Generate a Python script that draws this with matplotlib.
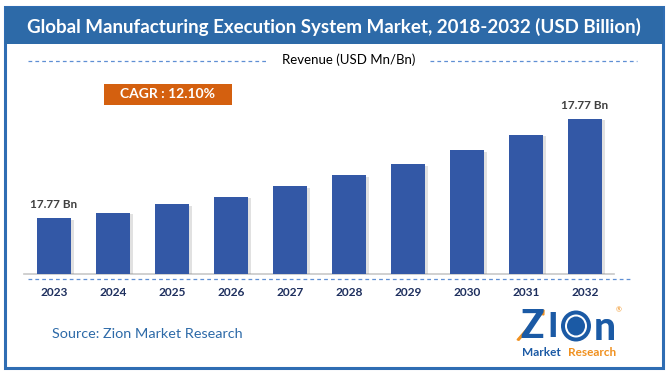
import matplotlib
matplotlib.use("Agg")
import matplotlib.pyplot as plt
import matplotlib.patheffects as pe
from matplotlib.patches import Rectangle, FancyArrow, Ellipse
from matplotlib.lines import Line2D

years = ["2023", "2024", "2025", "2026", "2027", "2028", "2029", "2030", "2031", "2032"]
values = [17.77, 19.56, 22.24, 24.67, 27.98, 31.49, 35.00, 39.47, 44.35, 49.46]
first_label = "17.77 Bn"
last_label = "17.77 Bn"
title = "Global Manufacturing Execution System Market, 2018-2032 (USD Billion)"
subtitle = "Revenue (USD Mn/Bn)"
cagr = "CAGR : 12.10%"
source = "Source: Zion Market Research"

W, H = 670, 376
FONT = ["Lato", "DejaVu Sans"]
plt.rcParams['font.family'] = FONT

fig = plt.figure(figsize=(W / 100, H / 100), dpi=100)
fig.patch.set_facecolor("white")

def fx(x):
    return x / W

def fy(y):
    return 1 - y / H

BLUE = "#2d6aa8"
BAR = "#3358a6"
DASH = "#5f8fd4"
LOGO_BLUE = "#1b5aa5"
LOGO_ORANGE = "#f0901e"

# outer border
fig.add_artist(Rectangle((fx(4.5), fy(368)), fx(663 - 4.5), (368 - 7) / H,
                         transform=fig.transFigure, fill=False, edgecolor="#2f6db3", lw=2.2))
# header band
fig.add_artist(Rectangle((fx(4.5), fy(44)), fx(663 - 4.5), (44 - 7) / H,
                         transform=fig.transFigure, facecolor=BLUE, edgecolor="none"))
fig.text(fx(334), fy(26.5), title, color="white", fontsize=13.5, fontweight="bold",
         ha="center", va="center")

# subtitle with dashed lines
fig.add_artist(Line2D([fx(28), fx(268)], [fy(61), fy(61)], transform=fig.transFigure,
                      color=DASH, lw=0.9, ls=(0, (3, 2.5))))
fig.add_artist(Line2D([fx(430), fx(637)], [fy(61), fy(61)], transform=fig.transFigure,
                      color=DASH, lw=0.9, ls=(0, (3, 2.5))))
fig.text(fx(349), fy(60), subtitle, color="black", fontsize=9.5, ha="center", va="center")

# CAGR box
fig.add_artist(Rectangle((fx(104), fy(104.5)), fx(232 - 104), (104.5 - 84) / H,
                         transform=fig.transFigure, facecolor="#d4600f", edgecolor="none"))
fig.text(fx(168), fy(94.5), cagr, color="white", fontsize=10, fontweight="bold",
         ha="center", va="center")

# axes
ax_top = 80
ax = fig.add_axes([fx(24), fy(274), fx(614 - 24), (274 - ax_top) / H])
ax.set_facecolor("none")
x = list(range(len(years)))
bars = ax.bar(x, values, width=0.576, color=BAR, zorder=3)
for b in bars:
    b.set_path_effects([pe.SimplePatchShadow(offset=(2.5, -1), shadow_rgbFace="#777777", alpha=0.22),
                        pe.Normal()])
ax.set_xlim(-0.505, 9.495)
ax.set_ylim(0, (274 - ax_top) / (155 / values[-1]))
for s in ["top", "right", "left"]:
    ax.spines[s].set_visible(False)
ax.spines["bottom"].set_color("#c8c8c8")
ax.spines["bottom"].set_linewidth(1.2)
ax.set_yticks([])
ax.set_xticks(x)
ax.set_xticklabels(years, fontsize=8.6, fontweight="bold", color="#1e2f5e")
ax.tick_params(axis="x", length=0, pad=9)

ax.annotate(first_label, (0, values[0]), xytext=(0, 6), textcoords="offset points",
            ha="center", va="bottom", fontsize=8.5, fontweight="bold", color="#404040")
ax.annotate(last_label, (9, values[-1]), xytext=(0, 6), textcoords="offset points",
            ha="center", va="bottom", fontsize=8.5, fontweight="bold", color="#404040")

# dashed line under axis
fig.add_artist(Line2D([fx(28), fx(633)], [fy(279), fy(279)], transform=fig.transFigure,
                      color=DASH, lw=0.9, ls=(0, (3, 2.5))))

# source
fig.text(fx(52), fy(334), source, color=BLUE, fontsize=10.4, ha="left", va="center")

# logo
fig.text(fx(532), fy(326), "Z", color=LOGO_BLUE, fontsize=28, fontweight="black",
         ha="center", va="center")
fig.text(fx(553), fy(327), "I", color=LOGO_BLUE, fontsize=25, fontweight="black",
         ha="center", va="center")
fig.add_artist(Ellipse((fx(576), fy(326)), 30 / W, 31 / H, transform=fig.transFigure,
                       facecolor=LOGO_BLUE, edgecolor="none"))
fig.add_artist(Ellipse((fx(576), fy(326)), 22 / W, 23 / H, transform=fig.transFigure,
                       facecolor="white", edgecolor="none"))
fig.add_artist(Ellipse((fx(576), fy(326)), 18 / W, 19 / H, transform=fig.transFigure,
                       facecolor=LOGO_BLUE, edgecolor="none"))
fig.text(fx(605), fy(328), "n", color=LOGO_BLUE, fontsize=28, fontweight="black",
         ha="center", va="center")
fig.add_artist(FancyArrow(fx(518), fy(340), fx(26), 30 / H, transform=fig.transFigure,
                          width=0.003, head_width=0.011, head_length=0.012,
                          length_includes_head=True, color=LOGO_ORANGE))
fig.text(fx(541), fy(352), "Market", color=LOGO_BLUE, fontsize=8.5, fontweight="bold",
         ha="center", va="center")
fig.text(fx(592), fy(352), "Research", color=LOGO_ORANGE, fontsize=8.5, fontweight="bold",
         ha="center", va="center")
fig.text(fx(619), fy(310), "®", color=LOGO_ORANGE, fontsize=5, ha="center", va="center")

fig.savefig("out.png", dpi=100, facecolor="white")
